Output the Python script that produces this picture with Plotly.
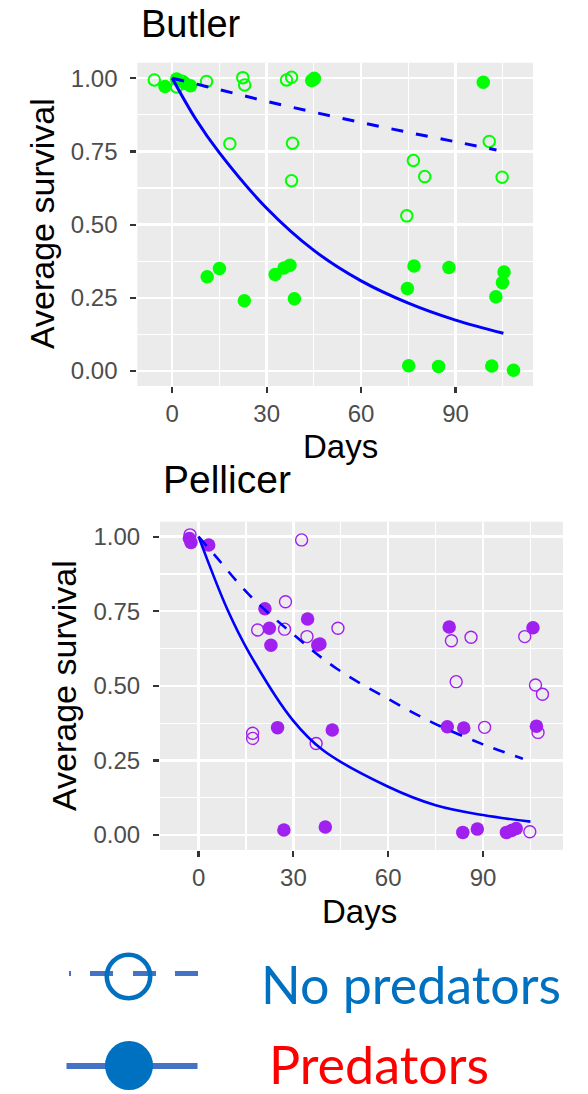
import plotly.graph_objects as go

W, H = 588, 1094

# ---------------- data ----------------
# Butler
butler_nopred_x = [-5.7, 1.4, 3.2, 10.9, 22.4, 23.0, 36.3, 37.9, 45.1, 18.3, 38.2, 37.9, 74.5, 76.6, 80.2, 100.7, 104.8]
butler_nopred_y = [0.994, 0.970, 0.990, 0.989, 1.002, 0.977, 0.994, 1.003, 1.000, 0.776, 0.778, 0.650, 0.530, 0.719, 0.664, 0.784, 0.662]
butler_pred_x = [-2.3, 1.4, 4.0, 5.8, 44.3, 45.1, 98.8, 11.1, 15.0, 22.9, 32.7, 35.5, 37.4, 38.8,
                 74.7, 76.8, 87.9, 105.4, 104.9, 102.8, 75.1, 84.6, 101.5, 108.4]
butler_pred_y = [0.972, 0.997, 0.983, 0.974, 0.992, 0.997, 0.986, 0.322, 0.350, 0.240, 0.330, 0.352, 0.361, 0.247,
                 0.282, 0.359, 0.354, 0.338, 0.302, 0.254, 0.018, 0.016, 0.017, 0.003]
butler_pred_fit_x = [0, 7.5, 15, 30, 45, 60, 75, 90, 105.2]
butler_pred_fit_y = [1.0, 0.86, 0.745, 0.556, 0.412, 0.308, 0.232, 0.174, 0.129]
butler_nopred_fit_x = [0, 15, 30, 45, 60, 75, 90, 103]
butler_nopred_fit_y = [1.0, 0.961, 0.921, 0.884, 0.849, 0.815, 0.783, 0.755]

# Pellicer
pell_nopred_x = [-2.7, 32.6, 27.5, 18.7, 27.2, 34.3, 44.1, 17.1, 17.1, 37.2, 80.0, 86.2, 81.5, 90.5,
                 103.2, 106.6, 108.8, 107.4, 104.8]
pell_nopred_y = [1.006, 0.989, 0.782, 0.687, 0.690, 0.665, 0.693, 0.341, 0.324, 0.307, 0.651, 0.663, 0.514, 0.361,
                 0.665, 0.503, 0.472, 0.344, 0.011]
pell_pred_x = [-2.9, -2.4, 3.2, 21.0, 22.4, 22.9, 34.5, 37.7, 38.4, 25.0, 42.3, 27.0, 40.1, 79.3, 78.7, 83.9,
               83.6, 88.2, 97.4, 99.0, 100.5, 105.8, 106.9]
pell_pred_y = [0.994, 0.980, 0.972, 0.758, 0.693, 0.636, 0.724, 0.637, 0.640, 0.360, 0.352, 0.017, 0.027, 0.697,
               0.363, 0.359, 0.009, 0.020, 0.009, 0.015, 0.022, 0.695, 0.365]
pell_pred_fit_x = [0, 9.2, 16.1, 29.8, 39.3, 60, 75, 90, 105]
pell_pred_fit_y = [1.0, 0.754, 0.609, 0.385, 0.285, 0.162, 0.10, 0.067, 0.045]
pell_nopred_fit_x = [0, 5.5, 16.1, 30.8, 43.5, 60, 75, 90, 102.6]
pell_nopred_fit_y = [1.0, 0.933, 0.804, 0.665, 0.559, 0.456, 0.372, 0.304, 0.256]

x_ticks = [0, 30, 60, 90]
y_ticks = [0.0, 0.25, 0.5, 0.75, 1.0]
y_tick_labels = ["0.00", "0.25", "0.50", "0.75", "1.00"]

legend_labels = ["No predators", "Predators"]

# ---------------- style ----------------
FONT = "Liberation Sans"
GREEN = "#00ff00"
PURPLE = "#a020f0"
FIT = "#0000ff"
PANEL = "#ebebeb"


def px(x):
    """page pixel x -> paper fraction"""
    return x / W


def py(y):
    """page pixel y (from top) -> paper fraction"""
    return 1 - y / H


fig = go.Figure()

# Butler (axes x/y)
fig.add_trace(go.Scatter(x=butler_nopred_x, y=butler_nopred_y, mode="markers", xaxis="x", yaxis="y",
                         marker=dict(symbol="circle-open", size=11.5, color=GREEN, line=dict(width=2, color=GREEN))))
fig.add_trace(go.Scatter(x=butler_pred_x, y=butler_pred_y, mode="markers", xaxis="x", yaxis="y",
                         marker=dict(symbol="circle", size=13.5, color=GREEN)))
fig.add_trace(go.Scatter(x=butler_nopred_fit_x, y=butler_nopred_fit_y, mode="lines", xaxis="x", yaxis="y",
                         line=dict(color=FIT, width=3, dash="12px,13px", shape="spline")))
fig.add_trace(go.Scatter(x=butler_pred_fit_x, y=butler_pred_fit_y, mode="lines", xaxis="x", yaxis="y",
                         line=dict(color=FIT, width=3, shape="spline")))

# Pellicer (axes x2/y2)
fig.add_trace(go.Scatter(x=pell_nopred_x, y=pell_nopred_y, mode="markers", xaxis="x2", yaxis="y2",
                         marker=dict(symbol="circle-open", size=12, color=PURPLE, line=dict(width=1.4, color=PURPLE))))
fig.add_trace(go.Scatter(x=pell_pred_x, y=pell_pred_y, mode="markers", xaxis="x2", yaxis="y2",
                         marker=dict(symbol="circle", size=13.5, color=PURPLE)))
fig.add_trace(go.Scatter(x=pell_nopred_fit_x, y=pell_nopred_fit_y, mode="lines", xaxis="x2", yaxis="y2",
                         line=dict(color=FIT, width=2.6, dash="12px,11px", shape="spline")))
fig.add_trace(go.Scatter(x=pell_pred_fit_x, y=pell_pred_fit_y, mode="lines", xaxis="x2", yaxis="y2",
                         line=dict(color=FIT, width=2.6, shape="spline")))

tickfont = dict(family=FONT, size=24, color="#4d4d4d")


def xaxis(domain, rng, anchor):
    return dict(domain=domain, range=rng, anchor=anchor, tickvals=x_ticks, ticktext=[str(v) for v in x_ticks],
                showgrid=True, gridcolor="white", gridwidth=2.4, zeroline=False, showline=False,
                ticks="outside", ticklen=6, tickwidth=2.2, tickcolor="#333333", tickfont=tickfont,
                minor=dict(tickmode="linear", tick0=15, dtick=30, showgrid=True, gridcolor="white", gridwidth=1.2,
                           ticks=""), fixedrange=True)


def yaxis(domain, rng, anchor):
    return dict(domain=domain, range=rng, anchor=anchor, tickvals=y_ticks, ticktext=y_tick_labels,
                showgrid=True, gridcolor="white", gridwidth=2.4, zeroline=False, showline=False,
                ticks="outside", ticklen=6, tickwidth=2.2, tickcolor="#333333", tickfont=tickfont,
                ticklabelstandoff=8,
                minor=dict(tickmode="linear", tick0=0.125, dtick=0.25, showgrid=True, gridcolor="white",
                           gridwidth=1.2, ticks=""), fixedrange=True)


layout = dict(
    width=W, height=H, margin=dict(l=0, r=0, t=0, b=0), showlegend=False,
    paper_bgcolor="white", plot_bgcolor=PANEL,
    xaxis=xaxis([px(137.3), px(533)], [-11.1, 114.6], "y"),
    yaxis=yaxis([py(386), py(62.7)], [-0.051, 1.053], "x"),
    xaxis2=xaxis([px(160), px(563)], [-12.2, 115.3], "y2"),
    yaxis2=yaxis([py(850), py(521.7)], [-0.050, 1.050], "x2"),
)
fig.update_layout(**layout)

ann = []
# titles
ann.append(dict(text="Butler", x=px(139), y=py(24), xanchor="left", yanchor="middle",
                font=dict(family=FONT, size=38, color="black")))
ann.append(dict(text="Pellicer", x=px(161), y=py(479), xanchor="left", yanchor="middle",
                font=dict(family=FONT, size=39, color="black")))
# axis titles
ann.append(dict(text="Average survival", x=px(42), y=py(224), textangle=-90, xanchor="center", yanchor="middle",
                font=dict(family=FONT, size=34, color="black")))
ann.append(dict(text="Days", x=px(340), y=py(447), xanchor="center", yanchor="middle",
                font=dict(family=FONT, size=33, color="black")))
ann.append(dict(text="Average survival", x=px(64), y=py(686), textangle=-90, xanchor="center", yanchor="middle",
                font=dict(family=FONT, size=34, color="black")))
ann.append(dict(text="Days", x=px(359), y=py(911), xanchor="center", yanchor="middle",
                font=dict(family=FONT, size=33, color="black")))
# legend texts
ann.append(dict(text=legend_labels[0], x=px(259), y=py(984), xanchor="left", yanchor="middle",
                font=dict(family="Lato", size=52, color="#0070c0")))
ann.append(dict(text=legend_labels[1], x=px(267), y=py(1064), xanchor="left", yanchor="middle",
                font=dict(family="Lato", size=52, color="#ff0000")))
for a in ann:
    a.update(xref="paper", yref="paper", showarrow=False)
fig.update_layout(annotations=ann)

# legend glyphs (decoration, paper coordinates)
shapes = []
shapes.append(dict(type="line", x0=px(69), x1=px(199), y0=py(973.5), y1=py(973.5),
                   line=dict(color="#4472c4", width=5, dash="2px,19px,23px,20px,23px,19px,23px,40px")))
shapes.append(dict(type="circle", x0=px(128.5 - 21.7), x1=px(128.5 + 21.7), y0=py(976.5 - 21.7), y1=py(976.5 + 21.7),
                   line=dict(color="#0070c0", width=4.6), fillcolor="rgba(0,0,0,0)"))
shapes.append(dict(type="line", x0=px(66.5), x1=px(197.5), y0=py(1066), y1=py(1066),
                   line=dict(color="#4472c4", width=6)))
shapes.append(dict(type="circle", x0=px(129 - 24), x1=px(129 + 24), y0=py(1065.5 - 24.5), y1=py(1065.5 + 24.5),
                   line=dict(color="#0070c0", width=0), fillcolor="#0070c0"))
for s in shapes:
    s.update(xref="paper", yref="paper", layer="above")
fig.update_layout(shapes=shapes)

# remove the default page margin so the 588x1094 figure fills the window exactly
fig.write_html("out.html", config={"displayModeBar": False, "staticPlot": True},
               post_script="document.body.style.margin='0';")
